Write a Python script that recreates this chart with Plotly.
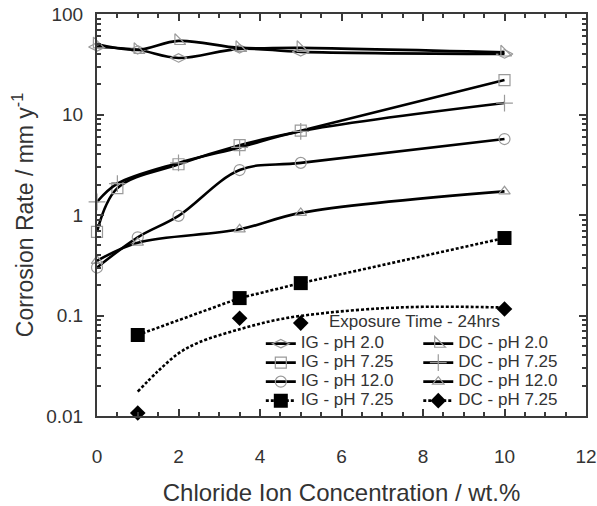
import plotly.graph_objects as go

# ---- data ----
ig_ph2_x = [0, 1, 2, 3.5, 5, 10]
ig_ph2_y = [47, 44, 36.5, 45, 42, 40]
dc_ph2_x = [0, 1, 2, 3.5, 5, 10]
dc_ph2_y = [50, 44, 54, 46, 46, 41.5]
ig_ph725_x = [0, 0.5, 2, 3.5, 5, 10]
ig_ph725_y = [0.68, 1.85, 3.2, 4.95, 6.9, 22]
dc_ph725_x = [0, 0.5, 2, 3.5, 5, 10]
dc_ph725_y = [1.35, 2.05, 3.3, 4.7, 6.8, 13]
ig_ph12_x = [0, 1, 2, 3.5, 5, 10]
ig_ph12_y = [0.30, 0.60, 0.98, 2.8, 3.3, 5.7]
dc_ph12_x = [0, 1, 3.5, 5, 10]
dc_ph12_y = [0.35, 0.53, 0.72, 1.05, 1.72]
ig_b_x = [1, 3.5, 5, 10]
ig_b_y = [0.064, 0.149, 0.21, 0.59]
dc_b_x = [1, 3.5, 5, 10]
dc_b_y = [0.0107, 0.094, 0.084, 0.116]
dc_fit_x = [1, 1.5, 2, 2.5, 3.5, 4.5, 5.7, 7, 8, 9, 10]
dc_fit_y = [0.0175, 0.028, 0.042, 0.054, 0.073, 0.092, 0.107, 0.118, 0.122, 0.122, 0.12]

x_ticks = [0, 2, 4, 6, 8, 10, 12]
y_tickvals = [0.01, 0.1, 1, 10, 100]
y_ticktext = ["0.01", "0.1", "1", "10", "100"]

FONT = "Liberation Sans, Arial, sans-serif"
TXT = "#333333"
GREY = "#9a9a9a"
LW = 2.6
DOT = "3px,2px"
LEG_PX = 17


def big(t):
    return f'<span style="font-size:{LEG_PX}px">{t}</span>'


fig = go.Figure()


def smooth(x, y, name, symbol, size, legend):
    fig.add_trace(go.Scatter(
        x=x, y=y, name=big(name), mode="lines+markers", legend=legend,
        line=dict(color="black", width=LW, shape="spline", smoothing=1),
        marker=dict(symbol=symbol, size=size, color=GREY, line=dict(color=GREY, width=1.2)),
        cliponaxis=False))


smooth(ig_ph2_x, ig_ph2_y, "IG - pH 2.0", "diamond-wide-open", 12, "legend")
smooth(ig_ph725_x, ig_ph725_y, "IG - pH 7.25", "square-open", 11, "legend")
smooth(ig_ph12_x, ig_ph12_y, "IG - pH 12.0", "circle-open", 11, "legend")
fig.add_trace(go.Scatter(
    x=ig_b_x, y=ig_b_y, name=big("IG - pH 7.25"), mode="lines+markers", legend="legend",
    line=dict(color="black", width=LW, dash=DOT),
    marker=dict(symbol="square", size=14, color="black"), cliponaxis=False))

smooth(dc_ph2_x, dc_ph2_y, "DC - pH 2.0", "triangle-sw-open", 12, "legend2")
smooth(dc_ph725_x, dc_ph725_y, "DC - pH 7.25", "cross-thin-open", 12, "legend2")
smooth(dc_ph12_x, dc_ph12_y, "DC - pH 12.0", "triangle-up-open", 10, "legend2")

# legend entry for DC (markers + fitted dotted curve)
fig.add_trace(go.Scatter(
    x=[None], y=[None], name=big("DC - pH 7.25"), mode="lines+markers", legend="legend2",
    line=dict(color="black", width=LW, dash=DOT),
    marker=dict(symbol="diamond", size=12, color="black")))
fig.add_trace(go.Scatter(
    x=dc_fit_x, y=dc_fit_y, mode="lines", showlegend=False,
    line=dict(color="black", width=LW, dash=DOT, shape="spline")))
fig.add_trace(go.Scatter(
    x=dc_b_x, y=dc_b_y, mode="markers", showlegend=False,
    marker=dict(symbol="diamond", size=12, color="black"), cliponaxis=False))

axis_common = dict(
    showline=True, linecolor="#3a3a3a", linewidth=2, mirror="ticks",
    ticks="inside", ticklen=7, tickwidth=1.5, tickcolor="#3a3a3a",
    showgrid=False, zeroline=False, automargin=False,
    tickfont=dict(family=FONT, size=19, color=TXT),
)

fig.update_xaxes(
    range=[0, 12], tickvals=x_ticks, ticklabelstandoff=22,
    minor=dict(ticks="inside", dtick=0.5, ticklen=4, tickcolor="#3a3a3a", showgrid=False),
    title=dict(text="Chloride Ion Concentration / wt.%", font=dict(family=FONT, size=24, color=TXT), standoff=18),
    **axis_common)
fig.update_yaxes(
    type="log", range=[-2, 2], tickvals=y_tickvals, ticktext=y_ticktext, ticklabelstandoff=8,
    minor=dict(ticks="inside", dtick="D1", ticklen=4, tickcolor="#3a3a3a", showgrid=False),
    title=dict(text="Corrosion Rate / mm y<sup>-1</sup>", font=dict(family=FONT, size=23, color=TXT), standoff=6),
    **axis_common)

leg_common = dict(
    orientation="v", xanchor="left", yanchor="top",
    bgcolor="rgba(0,0,0,0)", borderwidth=0,
    font=dict(family=FONT, size=11, color=TXT),
)

fig.update_layout(
    width=597, height=506,
    margin=dict(l=97, r=11, t=14, b=90),
    plot_bgcolor="white", paper_bgcolor="white",
    font=dict(family=FONT, color=TXT),
    legend=dict(x=0.335, y=0.216, **leg_common),
    legend2=dict(x=0.657, y=0.216, **leg_common),
    annotations=[dict(
        text="Exposure Time - 24hrs", xref="paper", yref="paper", x=0.65, y=0.234,
        xanchor="center", yanchor="middle", showarrow=False,
        font=dict(family=FONT, size=LEG_PX, color=TXT))],
)

fig.write_html("out.html")
